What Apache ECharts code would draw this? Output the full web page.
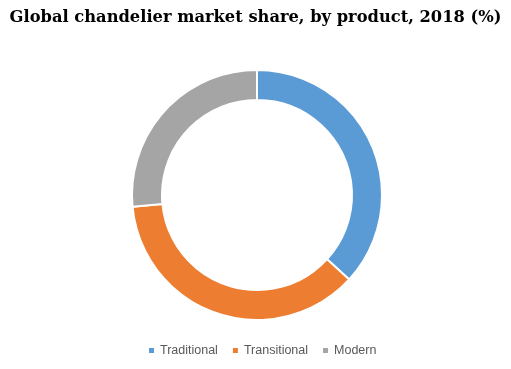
<!DOCTYPE html>
<html>
<head>
<meta charset="utf-8">
<script src="https://cdn.jsdelivr.net/npm/echarts@6/dist/echarts.min.js"></script>
<style>html,body{margin:0;padding:0;background:#fff}#c{width:511px;height:369px}</style>
</head>
<body>
<div id="c"></div>
<script>
const categories = ['Traditional', 'Transitional', 'Modern'];
const shares = [36.8, 36.7, 26.5];
const colors = ['#5B9BD5', '#ED7D31', '#A5A5A5'];

const chart = echarts.init(document.getElementById('c'), null, {renderer: 'canvas'});
chart.setOption({
  animation: false,
  title: {
    text: 'Global chandelier market share, by product, 2018 (%)',
    left: 'center', top: 5,
    textStyle: {fontFamily: 'DejaVu Serif', fontWeight: 'bold', fontSize: 16.3, color: '#000'}
  },
  legend: {
    top: 339, left: 142,
    icon: 'rect', itemWidth: 7, itemHeight: 7, itemGap: 13,
    textStyle: {fontFamily: 'Liberation Sans', fontSize: 12.5, color: '#595959'},
    data: categories
  },
  series: [{
    type: 'pie',
    center: [257, 195],
    radius: [95, 125],
    startAngle: 90,
    clockwise: true,
    label: {show: false},
    labelLine: {show: false},
    itemStyle: {borderColor: '#fff', borderWidth: 2},
    data: categories.map((c, i) => ({name: c, value: shares[i], itemStyle: {color: colors[i]}}))
  }]
});
</script>
</body>
</html>
